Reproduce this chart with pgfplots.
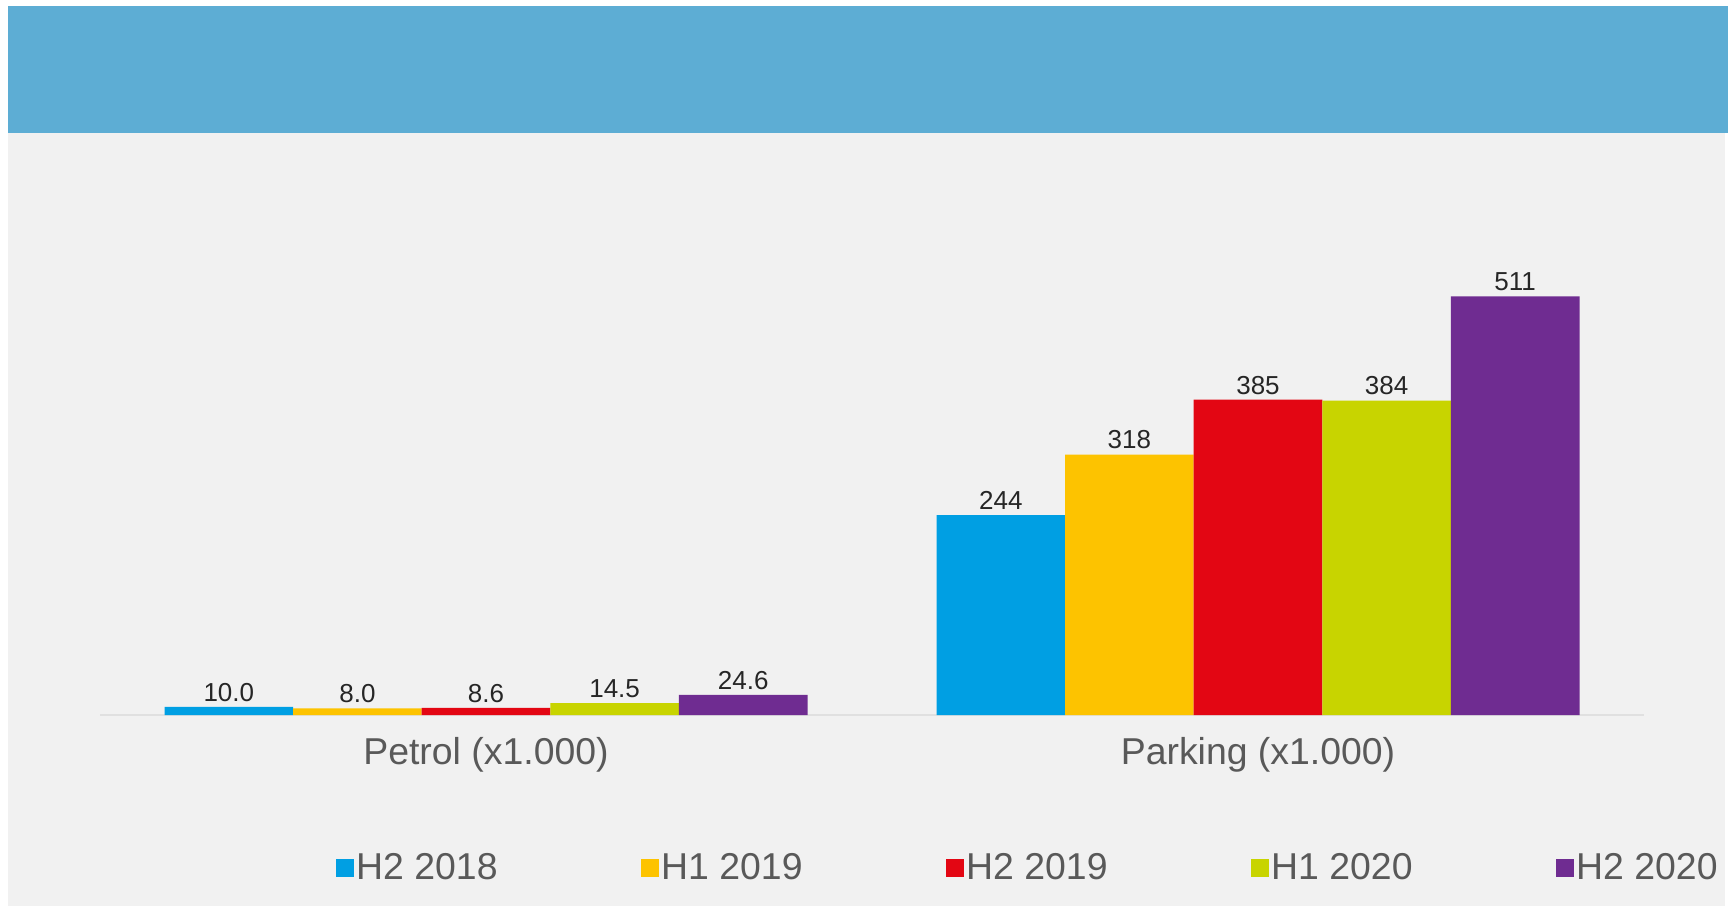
\documentclass[border=0pt]{standalone}
\usepackage{pgfplots}
\pgfplotsset{compat=1.18}
\usepackage{fontspec}
\setmainfont{Liberation Sans}
\definecolor{hblue}{HTML}{5DADD4}
\definecolor{bgray}{HTML}{F1F1F1}
\definecolor{linegray}{HTML}{E0E0E0}
\definecolor{labgray}{HTML}{595959}
\definecolor{cblue}{HTML}{009FE3}
\definecolor{cyellow}{HTML}{FDC300}
\definecolor{cred}{HTML}{E30613}
\definecolor{clime}{HTML}{C8D400}
\definecolor{cpurple}{HTML}{6F2C91}
\begin{document}
\begin{tikzpicture}
\fill[white] (0pt,0pt) rectangle (867.5pt,453pt);
\fill[bgray] (4pt,0pt) rectangle (862.5pt,386.5pt);
\fill[hblue] (4pt,386.5pt) rectangle (864pt,450pt);
\begin{axis}[
  at={(50pt,95.5pt)}, anchor=south west,
  scale only axis, width=772pt, height=245.7pt,
  ybar=0pt, bar width=64.3pt,
  xmin=-0.5, xmax=1.5, ymin=0, ymax=600,
  xtick={0,1}, xticklabels={Petrol (x1.000), Parking (x1.000)},
  xticklabel style={font=\fontsize{18.7}{22}\selectfont, text=labgray, yshift=-7.8pt},
  axis x line*=bottom, axis y line=none,
  x axis line style={draw=linegray, line width=1pt, -},
  major tick length=0pt, ytick=\empty,
  clip=false,
  nodes near coords, point meta=explicit symbolic,
  every node near coord/.append style={font=\fontsize{13}{15}\selectfont, text=black!85, inner sep=2.5pt},
  legend image code/.code={\fill[#1] (0pt,-4.5pt) rectangle (9pt,4.5pt);},
  legend style={at={(0.601,-0.311)}, anchor=center, draw=none, fill=none,
    legend columns=5, inner sep=0pt,
    font=\fontsize{18.7}{22}\selectfont, text=labgray,
    nodes={inner sep=1pt},
    /tikz/every odd column/.append style={column sep=0pt},
    /tikz/every even column/.append style={column sep=70.8pt}},
]
\addplot[fill=cblue, draw=none] coordinates {(0,10.0) [10.0] (1,244) [244]};
\addplot[fill=cyellow, draw=none] coordinates {(0,8.0) [8.0] (1,318) [318]};
\addplot[fill=cred, draw=none] coordinates {(0,8.6) [8.6] (1,385) [385]};
\addplot[fill=clime, draw=none] coordinates {(0,14.5) [14.5] (1,384) [384]};
\addplot[fill=cpurple, draw=none] coordinates {(0,24.6) [24.6] (1,511) [511]};
\legend{H2 2018, H1 2019, H2 2019, H1 2020, H2 2020}
\end{axis}
\end{tikzpicture}
\end{document}
